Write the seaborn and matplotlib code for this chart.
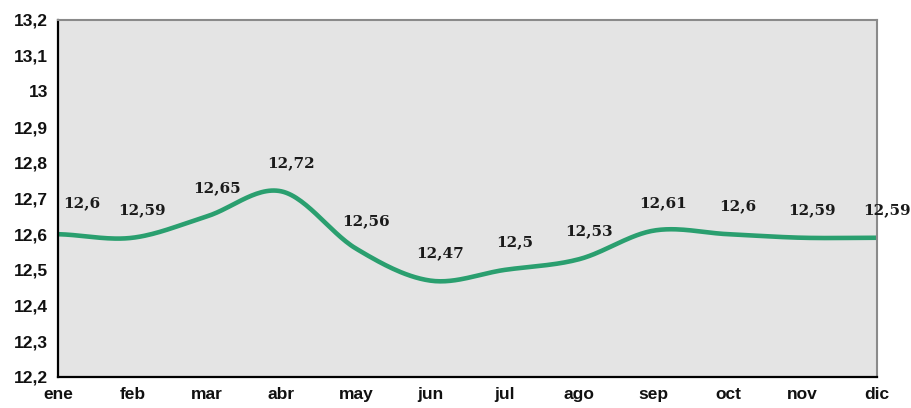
import numpy as np
import pandas as pd
import matplotlib
matplotlib.use("Agg")
import matplotlib.pyplot as plt
import seaborn as sns

# monthly values
months = ['ene', 'feb', 'mar', 'abr', 'may', 'jun', 'jul', 'ago', 'sep', 'oct', 'nov', 'dic']
values = [12.6, 12.59, 12.65, 12.72, 12.56, 12.47, 12.5, 12.53, 12.61, 12.6, 12.59, 12.59]
labels = ['12,6', '12,59', '12,65', '12,72', '12,56', '12,47', '12,5', '12,53', '12,61', '12,6', '12,59', '12,59']
y_ticks = [12.2, 12.3, 12.4, 12.5, 12.6, 12.7, 12.8, 12.9, 13.0, 13.1, 13.2]
y_ticklabels = ['12,2', '12,3', '12,4', '12,5', '12,6', '12,7', '12,8', '12,9', '13', '13,1', '13,2']


def smooth_line(y, steps=30):
    # Catmull-Rom curve through the points, like the "smoothed line" option in spreadsheets
    y = np.asarray(y, dtype=float)
    p = np.concatenate([[y[0]], y, [y[-1]]])
    xs, ys = [], []
    for i in range(len(y) - 1):
        p0, p1, p2, p3 = p[i], p[i + 1], p[i + 2], p[i + 3]
        t = np.linspace(0, 1, steps, endpoint=False)
        seg = 0.5 * ((2 * p1) + (-p0 + p2) * t + (2 * p0 - 5 * p1 + 4 * p2 - p3) * t ** 2
                     + (-p0 + 3 * p1 - 3 * p2 + p3) * t ** 3)
        xs.append(i + t)
        ys.append(seg)
    xs.append([len(y) - 1])
    ys.append([y[-1]])
    return np.concatenate(xs), np.concatenate(ys)


sx, sy = smooth_line(values)
curve = pd.DataFrame({'x': sx, 'y': sy})

sns.set_style('white')
plt.rcParams['font.family'] = ['Liberation Sans', 'DejaVu Sans']

fig = plt.figure(figsize=(9.12, 4.08), dpi=100)
ax = fig.add_axes([0.0636, 0.076, 0.898, 0.875])
ax.set_facecolor('#e4e4e4')

sns.lineplot(data=curve, x='x', y='y', ax=ax, color='#2a9f6f', linewidth=3.3, sort=False)

for i, (v, lab) in enumerate(zip(values, labels)):
    if i == 0:
        # first label sits inside the plot area
        off, ha = (4, 22), 'left'
    else:
        off, ha = (7, 20), 'center'
    ax.annotate(lab, (i, v), xytext=off, textcoords='offset points',
                ha=ha, va='center', fontsize=11, fontweight='bold',
                family='DejaVu Serif', color='#1a1a1a', annotation_clip=False)

ax.set_xlim(0, 11)
ax.set_ylim(12.2, 13.2)
ax.set_xticks(range(len(months)))
ax.set_xticklabels(months)
ax.set_yticks(y_ticks)
ax.set_yticklabels(y_ticklabels)
ax.set_xlabel('')
ax.set_ylabel('')

ax.tick_params(axis='both', direction='inout', length=8, width=1.5, color='black',
               labelsize=12.5, pad=3, labelcolor='#111111')
for t in ax.get_xticklabels() + ax.get_yticklabels():
    t.set_fontweight('bold')

ax.spines['left'].set_color('black')
ax.spines['bottom'].set_color('black')
ax.spines['left'].set_linewidth(1.6)
ax.spines['bottom'].set_linewidth(1.6)
ax.spines['top'].set_color('#8a8a8a')
ax.spines['right'].set_color('#8a8a8a')
ax.spines['top'].set_linewidth(1.5)
ax.spines['right'].set_linewidth(1.5)
for s in ax.spines.values():
    s.set_visible(True)

fig.savefig('out.png', dpi=100, facecolor='white')
